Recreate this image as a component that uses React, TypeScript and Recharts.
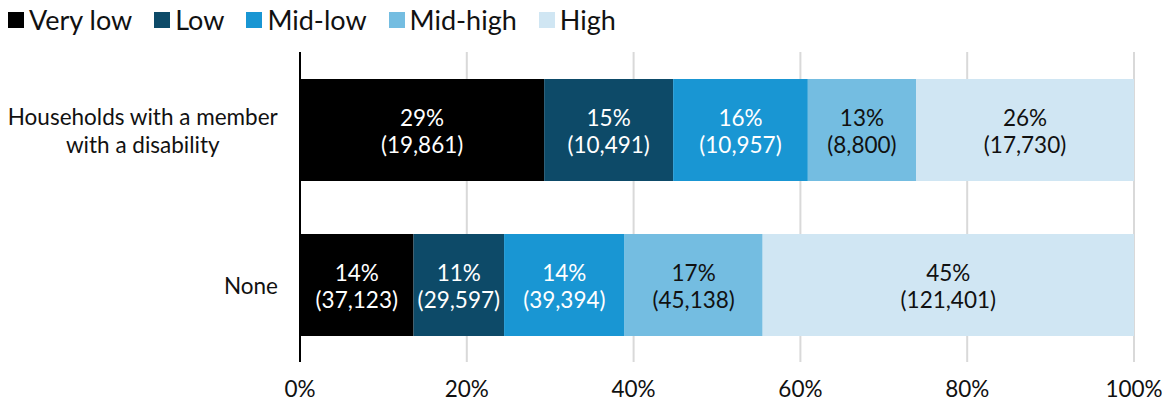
import { BarChart, Bar, XAxis, YAxis, CartesianGrid, LabelList } from "recharts";

const categories = ["Households with a member\nwith a disability", "None"];
const seriesNames = ["Very low", "Low", "Mid-low", "Mid-high", "High"];
const veryLow = [19861, 37123];
const low = [10491, 29597];
const midLow = [10957, 39394];
const midHigh = [8800, 45138];
const high = [17730, 121401];
const xTicks = [0, 0.2, 0.4, 0.6, 0.8, 1];

const seriesValues = [veryLow, low, midLow, midHigh, high];
const colors = ["#000000", "#0d4a68", "#1996d3", "#74bde1", "#d0e6f3"];
const labelColors = ["#ffffff", "#ffffff", "#ffffff", "#111111", "#111111"];
const keys = ["s0", "s1", "s2", "s3", "s4"];

const data = categories.map((name, i) => {
  const row: Record<string, number | string> = { name };
  seriesValues.forEach((vals, s) => {
    row[keys[s]] = vals[i];
  });
  return row;
});

const totals = categories.map((_, i) =>
  seriesValues.reduce((sum, vals) => sum + vals[i], 0)
);

const FONT = "Lato, sans-serif";
const FS = 22.5;

let ctx: CanvasRenderingContext2D | null = null;
function measure(text: string) {
  if (!ctx) ctx = document.createElement("canvas").getContext("2d");
  if (!ctx) return text.length * 10;
  ctx.font = `${FS}px Lato`;
  return ctx.measureText(text).width;
}

function CategoryTick(props: any) {
  const { y, payload } = props;
  const lines: string[] = String(payload.value).split("\n");
  const w = Math.max(...lines.map(measure));
  const cx = 278 - w / 2;
  const lh = 28;
  const startY = y - ((lines.length - 1) * lh) / 2;
  return (
    <text
      x={cx}
      y={startY}
      textAnchor="middle"
      fontFamily={FONT}
      fontSize={FS}
      fill="#111"
      dominantBaseline="central"
    >
      {lines.map((l, i) => (
        <tspan key={i} x={cx} y={startY + i * lh}>
          {l}
        </tspan>
      ))}
    </text>
  );
}

function makeLabel(s: number) {
  return (props: any) => {
    const { x, y, width, height, index } = props;
    const count = seriesValues[s][index];
    const pct = Math.round((count / totals[index]) * 100);
    const cx = Number(x) + Number(width) / 2;
    const cy = Number(y) + Number(height) / 2;
    return (
      <text
        textAnchor="middle"
        fontFamily={FONT}
        fontSize={FS}
        fill={labelColors[s]}
        dominantBaseline="central"
      >
        <tspan x={cx} y={cy - 13}>
          {pct}%
        </tspan>
        <tspan x={cx} y={cy + 14}>
          ({count.toLocaleString("en-US")})
        </tspan>
      </text>
    );
  };
}

function Legend() {
  return (
    <div
      style={{
        position: "absolute",
        top: 4,
        left: 8,
        display: "flex",
        fontFamily: FONT,
        fontSize: 27,
        color: "#111",
        lineHeight: "32px",
      }}
    >
      {seriesNames.map((n, i) => (
        <div key={n} style={{ display: "flex", alignItems: "center", marginRight: 22 }}>
          <span
            style={{
              width: 16,
              height: 16,
              background: colors[i],
              display: "inline-block",
              marginRight: 5,
            }}
          />
          {n}
        </div>
      ))}
    </div>
  );
}

export default function App() {
  return (
    <div style={{ position: "absolute", left: 0, top: 0, width: 1169, height: 404, background: "#fff" }}>
      <Legend />
      <BarChart
        width={1169}
        height={404}
        data={data}
        layout="vertical"
        stackOffset="expand"
        barSize={102}
        margin={{ top: 52, right: 35, bottom: 0, left: 0 }}
      >
        <CartesianGrid horizontal={false} stroke="#d9d9d9" strokeWidth={2} />
        <XAxis
          type="number"
          domain={[0, 1]}
          ticks={xTicks}
          tickFormatter={(v: number) => `${Math.round(v * 100)}%`}
          axisLine={false}
          tickLine={false}
          height={42}
          tickMargin={13}
          tick={{ fontFamily: FONT, fontSize: FS, fill: "#111" }}
        />
        <YAxis
          type="category"
          dataKey="name"
          width={300}
          axisLine={{ stroke: "#000", strokeWidth: 2 }}
          tickLine={false}
          tick={<CategoryTick />}
        />
        {keys.map((k, s) => (
          <Bar key={k} dataKey={k} stackId="a" fill={colors[s]} isAnimationActive={false}>
            <LabelList dataKey={k} content={makeLabel(s)} />
          </Bar>
        ))}
      </BarChart>
    </div>
  );
}
